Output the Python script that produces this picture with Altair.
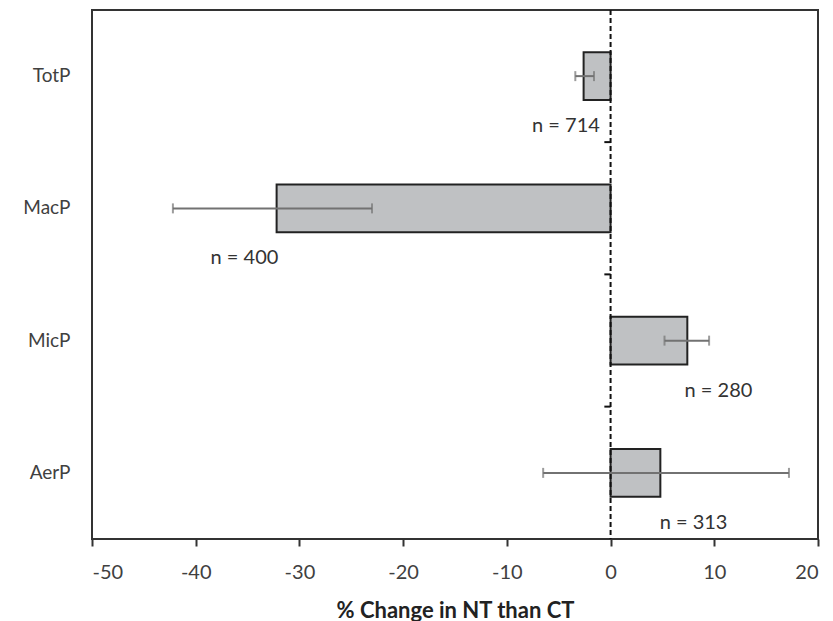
import altair as alt
import pandas as pd

categories = ["TotP", "MacP", "MicP", "AerP"]
values = [-2.6, -32.2, 7.4, 4.8]
err_lo = [-3.4, -42.2, 5.2, -6.5]
err_hi = [-1.6, -23.0, 9.5, 17.2]
n_labels = ["n = 714", "n = 400", "n = 280", "n = 313"]
label_x = [-4.3, -35.3, 10.4, 8.0]
boundary_cats = ["TotP", "MacP", "MicP"]

df = pd.DataFrame({
    "cat": categories, "value": values, "lo": err_lo, "hi": err_hi,
    "label": n_labels, "lx": label_x,
})
bdf = pd.DataFrame({"cat": boundary_cats})

FONT = "Lato"
xscale = alt.Scale(domain=[-50, 20], nice=False, zero=False)
yscale = alt.Scale(domain=categories, paddingInner=0.64, paddingOuter=0.32)

xenc = alt.X("value:Q", scale=xscale,
             axis=alt.Axis(values=list(range(-50, 21, 10)), title="% Change in NT than CT",
                           labelExpr="toString(datum.value)",
                           grid=False, domain=False, ticks=True, tickSize=7, tickWidth=2,
                           tickColor="#333333", labelFontSize=20, labelColor="#404040",
                           labelFont=FONT, titleFont=FONT, titleFontSize=22,
                           titleFontWeight="bold", titleColor="#222222",
                           labelPadding=16, titlePadding=18))
yenc = alt.Y("cat:N", scale=yscale, sort=categories,
             axis=alt.Axis(title=None, domain=False, ticks=False, labelFontSize=19,
                           labelColor="#404040", labelFont=FONT, labelPadding=22))

base = alt.Chart(df)

bars = base.mark_bar(color="#bfc1c3", stroke="#222222", strokeWidth=2).encode(
    x=xenc, x2=alt.datum(0), y=yenc)

err = base.mark_rule(color="#727272", strokeWidth=2).encode(
    x=alt.X("lo:Q", scale=xscale), x2="hi:Q", y=alt.Y("cat:N", scale=yscale, sort=categories))
cap_lo = base.mark_tick(color="#727272", thickness=2, size=10, orient="vertical").encode(
    x=alt.X("lo:Q", scale=xscale), y=alt.Y("cat:N", scale=yscale, sort=categories))
cap_hi = base.mark_tick(color="#727272", thickness=2, size=10, orient="vertical").encode(
    x=alt.X("hi:Q", scale=xscale), y=alt.Y("cat:N", scale=yscale, sort=categories))

zero = alt.Chart(pd.DataFrame({"z": [0]})).mark_rule(
    color="#111111", strokeWidth=2, strokeDash=[5, 3]).encode(x=alt.X("z:Q", scale=xscale))

bticks = alt.Chart(bdf).mark_rule(color="#111111", strokeWidth=2, yOffset=66).encode(
    x=alt.datum(0, scale=xscale), x2=alt.datum(-0.6),
    y=alt.Y("cat:N", scale=yscale, sort=categories))

texts = base.mark_text(fontSize=20, font=FONT, color="#333333", dy=50).encode(
    x=alt.X("lx:Q", scale=xscale), y=alt.Y("cat:N", scale=yscale, sort=categories),
    text="label:N")

chart = alt.layer(bars, err, cap_lo, cap_hi, zero, bticks, texts).properties(
    width=726, height=529,
    padding={"left": 14, "top": 1, "right": 5, "bottom": 0},
    view=alt.ViewBackground(stroke="#333333", strokeWidth=2),
).configure(background="white")

chart.save("out.html", embed_options={"renderer": "svg", "actions": False})
